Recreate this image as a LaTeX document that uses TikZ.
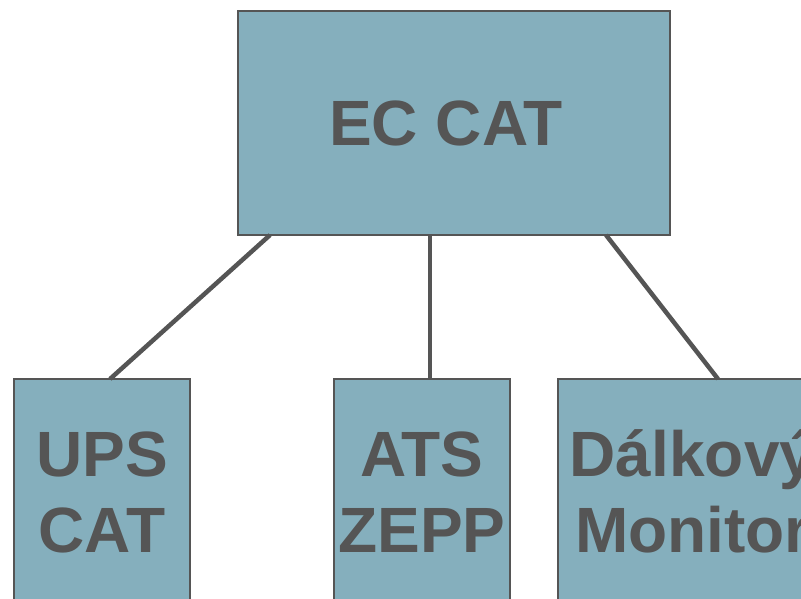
\documentclass[tikz,border=0pt]{standalone}
\usepackage{fontspec}
\setmainfont{Liberation Sans}
\begin{document}
\begin{tikzpicture}[x=1pt,y=-1pt,
  box/.style={draw=boxline,fill=boxfill,line width=1.5pt,inner sep=0pt,outer sep=0pt,
    font=\bfseries, text=boxtext},
  topbox/.style={box,minimum width=432pt,minimum height=224pt,
    font=\fontsize{64}{76}\selectfont\bfseries,text height=46pt,text depth=0pt},
  leafbox/.style={box,minimum width=176pt,minimum height=224pt,align=center,
    font=\fontsize{64}{76}\selectfont\bfseries,text height=122pt,text depth=0pt},
  link/.style={draw=boxline,line width=4.5pt}]
\definecolor{boxfill}{HTML}{85AFBD}
\definecolor{boxline}{HTML}{555555}
\definecolor{boxtext}{HTML}{555555}
\useasboundingbox (0,0) rectangle (801,599);
\clip (0,0) rectangle (801,599);

% root of the tree
\node[topbox] (ec) at (454,123) {EC CAT\hspace*{16pt}};

% children
\node[leafbox] (ups) at (102,491) {UPS\\CAT};
\node[leafbox] (ats) at (422,491) {ATS\\ZEPP};
\node[leafbox,minimum width=269pt] (dm) at (692.5,491) {Dálkový\\Monitor};

% connectors
\draw[link] ([xshift=32pt]ec.south west) -- ([xshift=96pt]ups.north west);
\draw[link] ([xshift=192pt]ec.south west) -- ([xshift=96pt]ats.north west);
\draw[link] ([xshift=368pt]ec.south west) -- ([xshift=160pt]dm.north west);
\end{tikzpicture}
\end{document}
